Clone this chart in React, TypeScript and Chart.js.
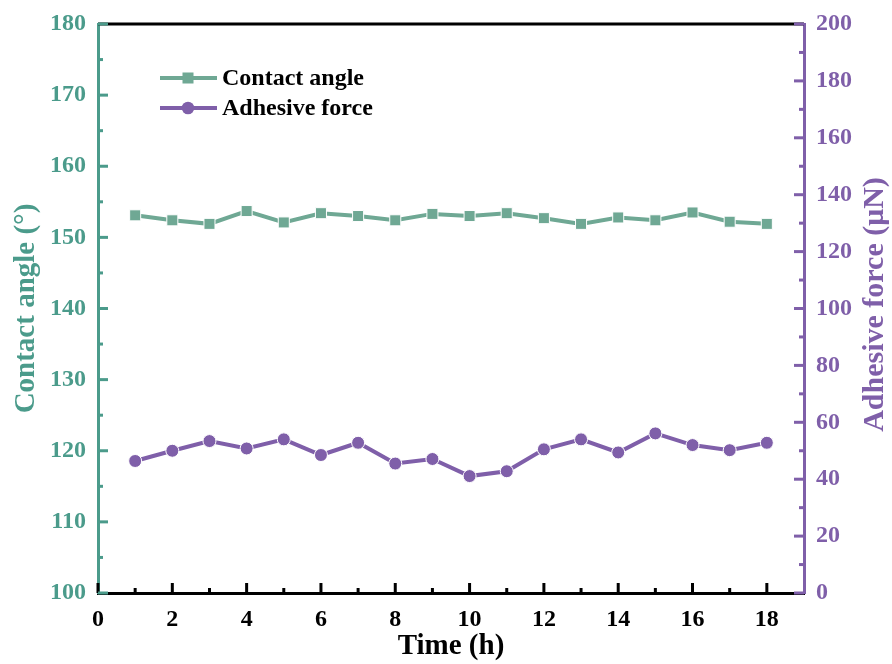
import React, { useEffect, useRef } from "react";
import { Chart, registerables } from "chart.js";

Chart.register(...registerables);

const timeHours = [1, 2, 3, 4, 5, 6, 7, 8, 9, 10, 11, 12, 13, 14, 15, 16, 17, 18];
const contactAngle = [153.1, 152.4, 151.9, 153.7, 152.1, 153.4, 153.0, 152.4, 153.3, 153.0, 153.4, 152.7, 151.9, 152.8, 152.4, 153.5, 152.2, 151.9];
const adhesiveForce = [46.4, 50.0, 53.4, 50.8, 54.0, 48.5, 52.8, 45.5, 47.1, 41.1, 42.8, 50.5, 54.0, 49.4, 56.1, 52.0, 50.2, 52.8];
const xTickValues = [0, 2, 4, 6, 8, 10, 12, 14, 16, 18];
const leftTickValues = [100, 110, 120, 130, 140, 150, 160, 170, 180];
const rightTickValues = [0, 20, 40, 60, 80, 100, 120, 140, 160, 180, 200];

const TEAL_AXIS = "#4b9b8b";
const TEAL_LINE = "#6fa894";
const PURPLE = "#7f5fa9";
const FONT = "'Liberation Serif', 'Times New Roman', serif";

const decorPlugin = {
  id: "decor",
  afterDraw(chart: any) {
    const ctx = chart.ctx;
    const { left, right, top, bottom } = chart.chartArea;
    const sx = chart.scales.x;
    const sy = chart.scales.y;
    const sy1 = chart.scales.y1;
    ctx.save();
    // top frame line
    ctx.strokeStyle = "#000";
    ctx.lineWidth = 3;
    ctx.beginPath();
    ctx.moveTo(left, top);
    ctx.lineTo(right, top);
    ctx.stroke();

    const MAJ = 10;
    const MIN = 5;
    ctx.lineWidth = 3;
    // x ticks (inward = up)
    ctx.strokeStyle = "#000";
    xTickValues.forEach((v, i) => {
      const px = sx.getPixelForValue(v);
      ctx.beginPath();
      ctx.moveTo(px, bottom);
      ctx.lineTo(px, bottom - MAJ);
      ctx.stroke();
      if (i < xTickValues.length - 1) {
        const m = sx.getPixelForValue((v + xTickValues[i + 1]) / 2);
        ctx.beginPath();
        ctx.moveTo(m, bottom);
        ctx.lineTo(m, bottom - MIN);
        ctx.stroke();
      }
    });
    // left ticks
    ctx.strokeStyle = TEAL_AXIS;
    leftTickValues.forEach((v, i) => {
      const py = sy.getPixelForValue(v);
      ctx.beginPath();
      ctx.moveTo(left, py);
      ctx.lineTo(left + MAJ, py);
      ctx.stroke();
      if (i < leftTickValues.length - 1) {
        const m = sy.getPixelForValue((v + leftTickValues[i + 1]) / 2);
        ctx.beginPath();
        ctx.moveTo(left, m);
        ctx.lineTo(left + MIN, m);
        ctx.stroke();
      }
    });
    // right ticks
    ctx.strokeStyle = PURPLE;
    rightTickValues.forEach((v, i) => {
      const py = sy1.getPixelForValue(v);
      ctx.beginPath();
      ctx.moveTo(right, py);
      ctx.lineTo(right - MAJ, py);
      ctx.stroke();
      if (i < rightTickValues.length - 1) {
        const m = sy1.getPixelForValue((v + rightTickValues[i + 1]) / 2);
        ctx.beginPath();
        ctx.moveTo(right, m);
        ctx.lineTo(right - MIN, m);
        ctx.stroke();
      }
    });

    // axis titles
    const cy = (top + bottom) / 2;
    ctx.font = `bold 29px ${FONT}`;
    ctx.textAlign = "center";
    ctx.textBaseline = "middle";
    ctx.fillStyle = "#000";
    ctx.fillText("Time (h)", (left + right) / 2, 647);

    ctx.save();
    ctx.translate(27, cy);
    ctx.rotate(-Math.PI / 2);
    ctx.fillStyle = TEAL_AXIS;
    ctx.fillText("Contact angle (°)", 0, 0);
    ctx.restore();

    ctx.save();
    ctx.translate(875, cy - 4);
    ctx.rotate(-Math.PI / 2);
    ctx.fillStyle = PURPLE;
    ctx.font = `bold 30px ${FONT}`;
    ctx.fillText("Adhesive force (μN)", 0, 0);
    ctx.restore();

    // legend
    const rows = [
      { label: "Contact angle", color: TEAL_LINE, y: 78, shape: "rect" },
      { label: "Adhesive force", color: PURPLE, y: 108, shape: "circle" },
    ];
    rows.forEach((r) => {
      ctx.strokeStyle = r.color;
      ctx.fillStyle = r.color;
      ctx.lineWidth = 4;
      ctx.beginPath();
      ctx.moveTo(160, r.y);
      ctx.lineTo(217, r.y);
      ctx.stroke();
      if (r.shape === "rect") {
        ctx.fillRect(188 - 5.5, r.y - 5.5, 11, 11);
      } else {
        ctx.beginPath();
        ctx.arc(188, r.y, 6.3, 0, Math.PI * 2);
        ctx.fill();
      }
      ctx.fillStyle = "#000";
      ctx.font = `bold 24px ${FONT}`;
      ctx.textAlign = "left";
      ctx.textBaseline = "middle";
      ctx.fillText(r.label, 222, r.y + 1);
    });
    ctx.restore();
  },
};

export default function App() {
  const ref = useRef<HTMLCanvasElement | null>(null);
  useEffect(() => {
    if (!ref.current) return;
    const chart = new Chart(ref.current, {
      type: "line",
      data: {
        datasets: [
          {
            label: "Contact angle",
            data: timeHours.map((t, i) => ({ x: t, y: contactAngle[i] })),
            yAxisID: "y",
            borderColor: TEAL_LINE,
            backgroundColor: TEAL_LINE,
            borderWidth: 4,
            pointStyle: "rect",
            pointRadius: 7.8,
            pointBorderWidth: 1,
            pointBorderColor: "#ffffff",
            pointBackgroundColor: TEAL_LINE,
            tension: 0,
          },
          {
            label: "Adhesive force",
            data: timeHours.map((t, i) => ({ x: t, y: adhesiveForce[i] })),
            yAxisID: "y1",
            borderColor: PURPLE,
            backgroundColor: PURPLE,
            borderWidth: 4,
            pointStyle: "circle",
            pointRadius: 6.5,
            pointBorderWidth: 1,
            pointBorderColor: "#ffffff",
            pointBackgroundColor: PURPLE,
            tension: 0,
          },
        ],
      },
      options: {
        responsive: false,
        animation: false,
        layout: { padding: { top: 24, left: 0, right: 0, bottom: 0 } },
        plugins: { legend: { display: false }, tooltip: { enabled: false } },
        scales: {
          x: {
            type: "linear",
            position: "bottom",
            min: 0,
            max: 19,
            afterBuildTicks: (s: any) => {
              s.ticks = xTickValues.map((v) => ({ value: v }));
            },
            afterFit: (s: any) => {
              s.height = 71;
            },
            grid: { display: false },
            border: { display: true, color: "#000", width: 3 },
            ticks: {
              color: "#000",
              font: { family: FONT, size: 24, weight: "bold" },
              padding: 4,
              maxRotation: 0,
              autoSkip: false,
            },
          },
          y: {
            type: "linear",
            position: "left",
            min: 100,
            max: 180,
            afterBuildTicks: (s: any) => {
              s.ticks = leftTickValues.map((v) => ({ value: v }));
            },
            afterFit: (s: any) => {
              s.width = 98;
            },
            grid: { display: false },
            border: { display: true, color: TEAL_AXIS, width: 3 },
            ticks: {
              color: TEAL_AXIS,
              font: { family: FONT, size: 24, weight: "bold" },
              padding: 4,
            },
          },
          y1: {
            type: "linear",
            position: "right",
            min: 0,
            max: 200,
            afterBuildTicks: (s: any) => {
              s.ticks = rightTickValues.map((v) => ({ value: v }));
            },
            afterFit: (s: any) => {
              s.width = 88;
            },
            grid: { display: false },
            border: { display: true, color: PURPLE, width: 3 },
            ticks: {
              color: PURPLE,
              font: { family: FONT, size: 24, weight: "bold" },
              padding: 4,
            },
          },
        },
      },
      plugins: [decorPlugin],
    } as any);
    return () => chart.destroy();
  }, []);
  return (
    <div style={{ position: "absolute", left: 0, top: 0, width: 892, height: 664, background: "#fff" }}>
      <canvas ref={ref} width={892} height={664} style={{ width: 892, height: 664 }} />
    </div>
  );
}
